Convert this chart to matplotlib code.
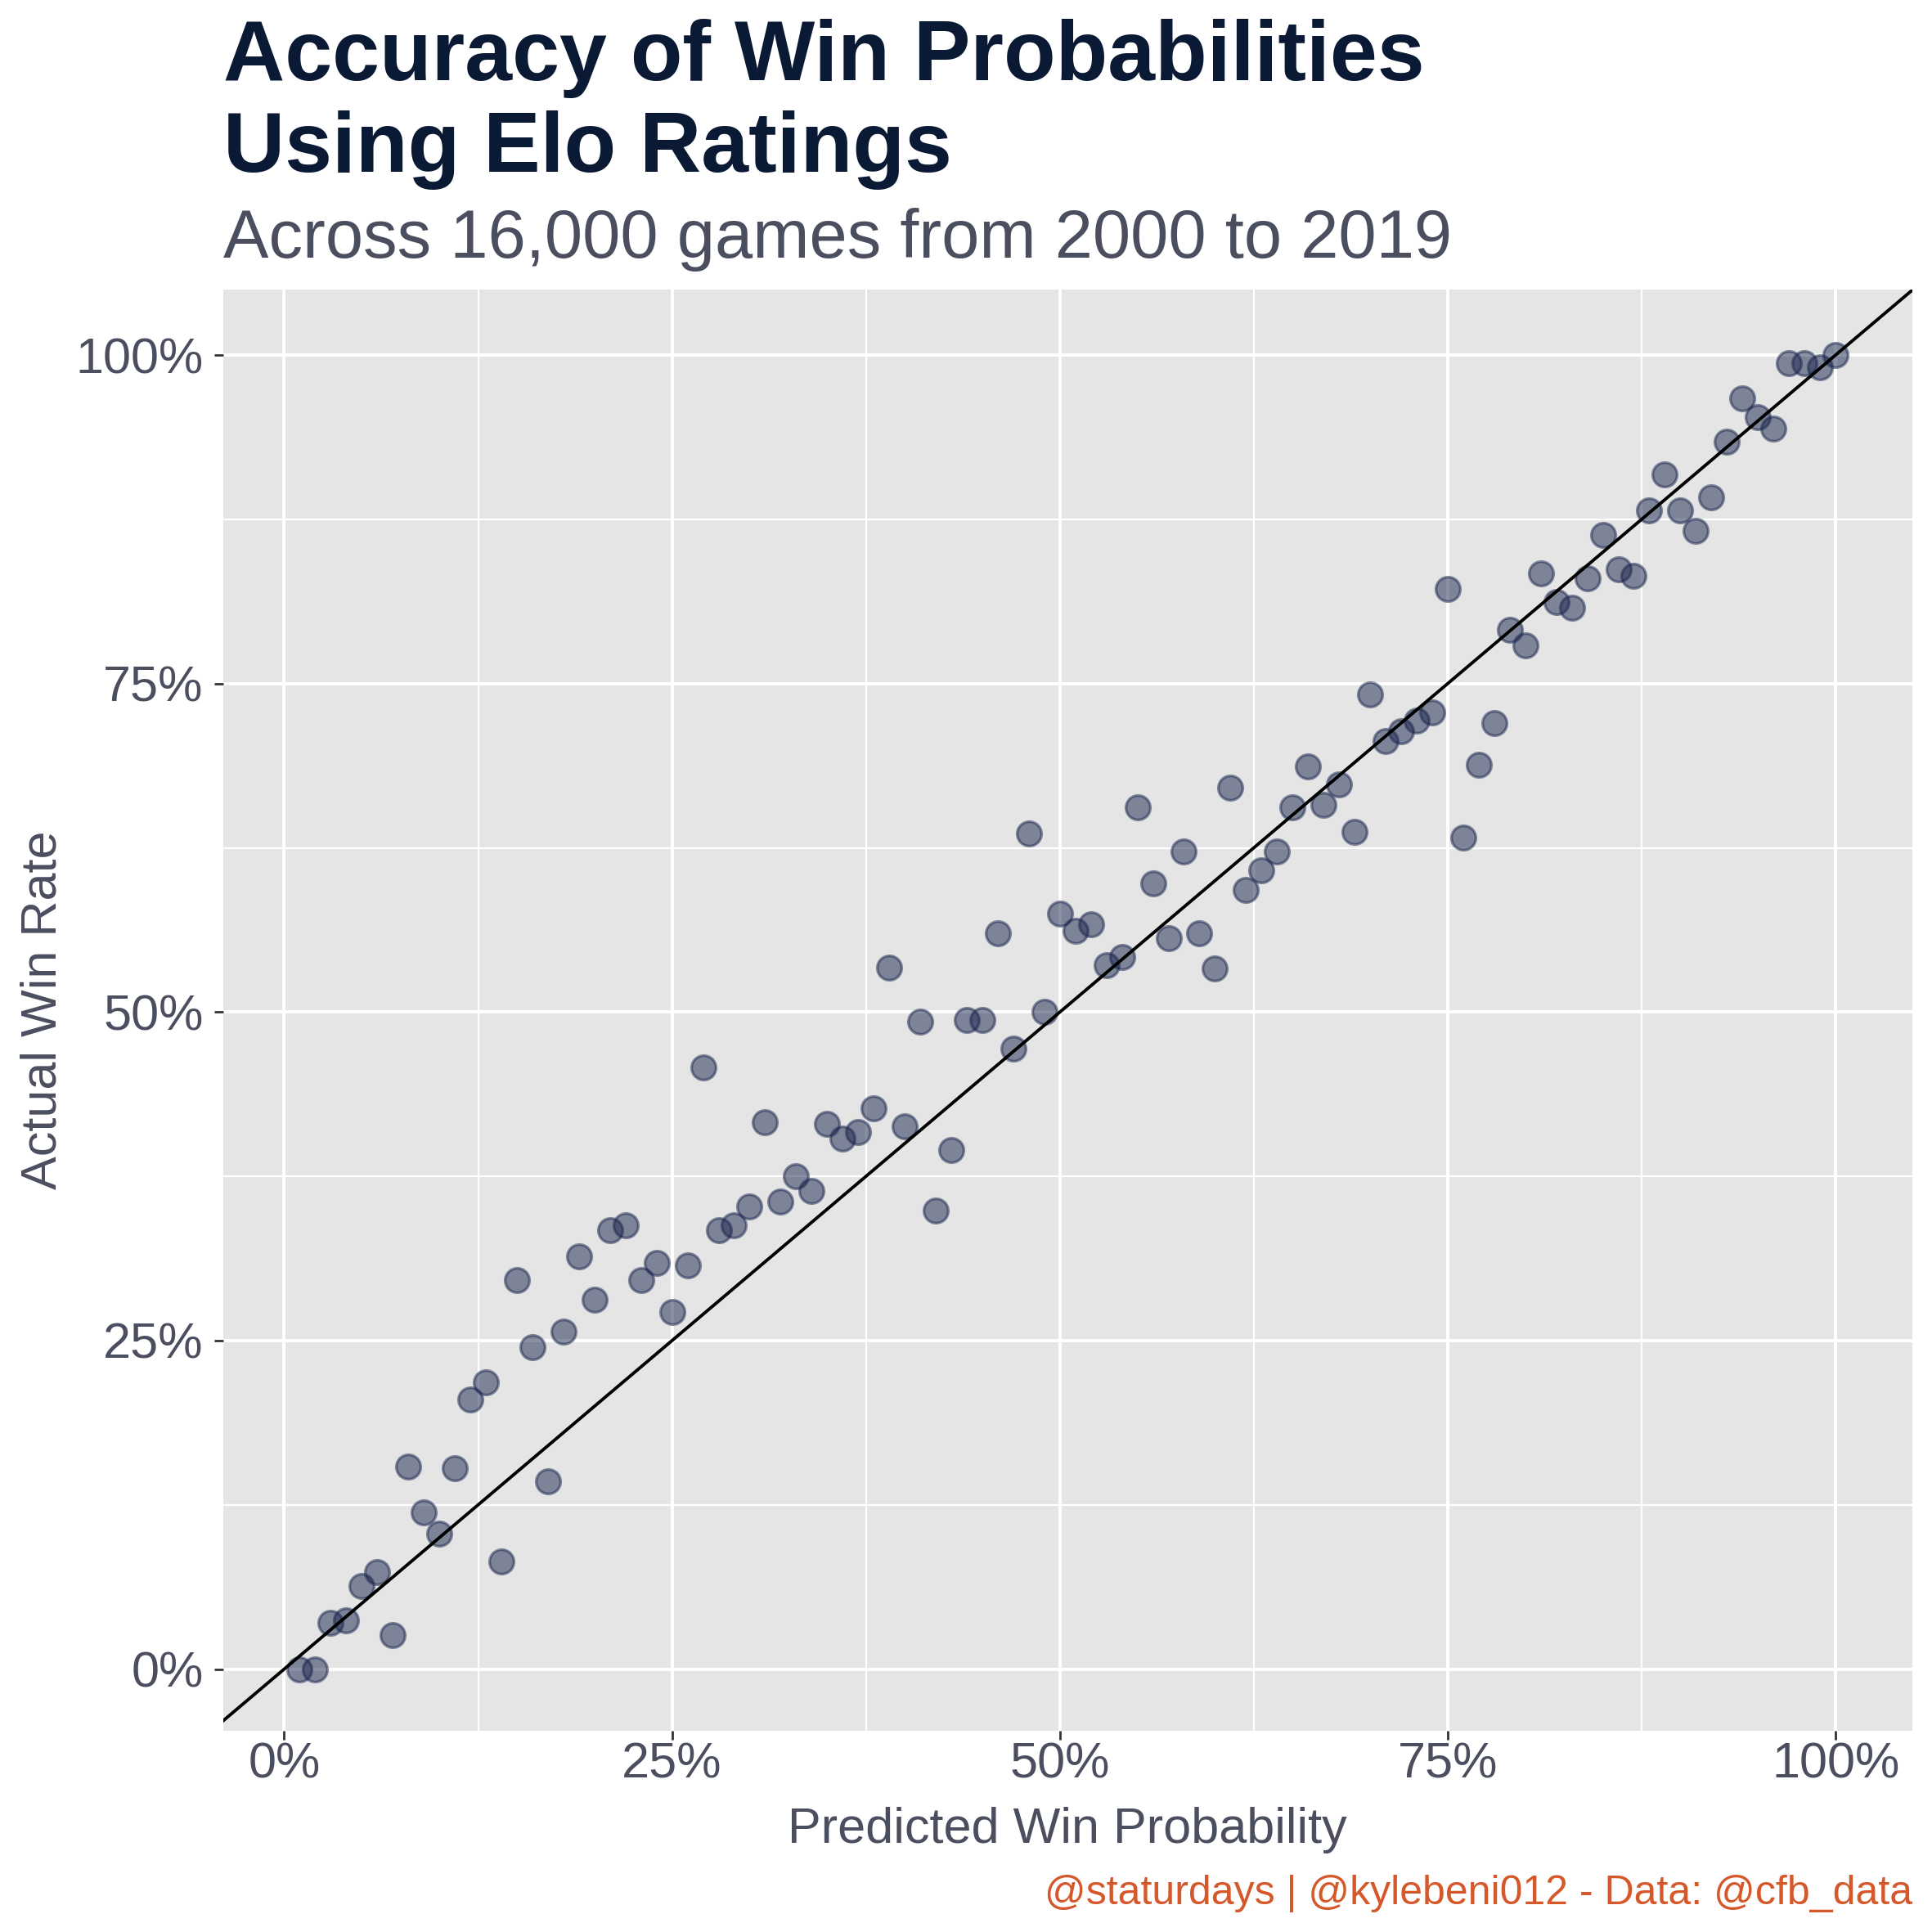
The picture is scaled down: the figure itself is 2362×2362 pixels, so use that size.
import numpy as np
import matplotlib.pyplot as plt

plt.rcParams['font.family'] = ['Liberation Sans', 'DejaVu Sans']

# predicted win probability (percent) and observed win rate (percent)
predicted = list(range(1, 101))
actual = [
    0.0, 0.0, 3.5, 3.7, 6.3, 7.4, 2.6, 15.4, 11.9, 10.3,
    15.3, 20.5, 21.8, 8.2, 29.6, 24.5, 14.3, 25.7, 31.4, 28.1,
    33.4, 33.8, 29.6, 30.9, 27.2, 30.7, 45.8, 33.4, 33.8, 35.2,
    41.6, 35.6, 37.5, 36.4, 41.5, 40.4, 40.9, 42.7, 53.4, 41.3,
    49.3, 34.9, 39.5, 49.4, 49.4, 56.0, 47.2, 63.6, 50.0, 57.5,
    56.2, 56.7, 53.6, 54.2, 65.6, 59.8, 55.6, 62.2, 56.0, 53.3,
    67.1, 59.3, 60.8, 62.2, 65.6, 68.7, 65.8, 67.3, 63.7, 74.2,
    70.6, 71.4, 72.2, 72.8, 82.2, 63.3, 68.8, 72.0, 79.1, 77.9,
    83.4, 81.2, 80.8, 83.0, 86.3, 83.7, 83.2, 88.2, 90.9, 88.2,
    86.6, 89.2, 93.4, 96.7, 95.3, 94.4, 99.4, 99.4, 99.1, 100.0,
]
title_lines = ["Accuracy of Win Probabilities", "Using Elo Ratings"]
subtitle = "Across 16,000 games from 2000 to 2019"
caption = "@staturdays | @kylebeni012 - Data: @cfb_data"
ticks = [0, 0.25, 0.5, 0.75, 1.0]
tick_labels = ["0%", "25%", "50%", "75%", "100%"]

navy = "#0B1A34"
grey = "#4A4E5F"
orange = "#D5582B"

W = 2362
fig = plt.figure(figsize=(W / 200, W / 200), dpi=200)
ax = fig.add_axes([0.1154, 0.1042, 0.9898 - 0.1154, 0.850 - 0.1042])
ax.set_facecolor("#E5E5E5")
for s in ax.spines.values():
    s.set_visible(False)

x = np.array(predicted) / 100
y = np.array(actual) / 100
ax.scatter(x, y, s=115, color="#19254D", alpha=0.5, linewidths=1.2, zorder=3)
ax.axline((0, 0), slope=1, color="black", lw=1.4, zorder=4)

ax.set_xlim(-0.0395, 1.0495)
ax.set_ylim(-0.0469, 1.0497)
ax.set_xticks(ticks)
ax.set_xticklabels(tick_labels)
ax.set_yticks(ticks)
ax.set_yticklabels(tick_labels)
minor = [0.125, 0.375, 0.625, 0.875]
ax.set_xticks(minor, minor=True)
ax.set_yticks(minor, minor=True)
ax.grid(which="major", color="white", lw=1.4)
ax.grid(which="minor", color="white", lw=0.8)
ax.set_axisbelow(True)
ax.tick_params(which="major", length=4, width=1, color="#333333", labelsize=22, labelcolor=grey)
ax.tick_params(axis="x", pad=1)
ax.tick_params(axis="y", pad=4.7)
ax.tick_params(which="minor", length=0)

ax.set_xlabel("Predicted Win Probability", fontsize=22, color=grey, labelpad=8)
ax.set_ylabel("Actual Win Rate", fontsize=22, color=grey, labelpad=4)

fig.text(273 / W, 1 - 98 / W, title_lines[0], fontsize=37.5, fontweight="bold",
         color=navy, va="baseline", ha="left")
fig.text(273 / W, 1 - 210 / W, title_lines[1], fontsize=37.5, fontweight="bold",
         color=navy, va="baseline", ha="left")
fig.text(273 / W, 1 - 315 / W, subtitle, fontsize=29.95, color=grey, va="baseline", ha="left")
fig.text(0.9898, 1 - 2328 / W, caption, fontsize=18.0, color=orange, va="baseline", ha="right")

fig.savefig("out.png", dpi=200)
